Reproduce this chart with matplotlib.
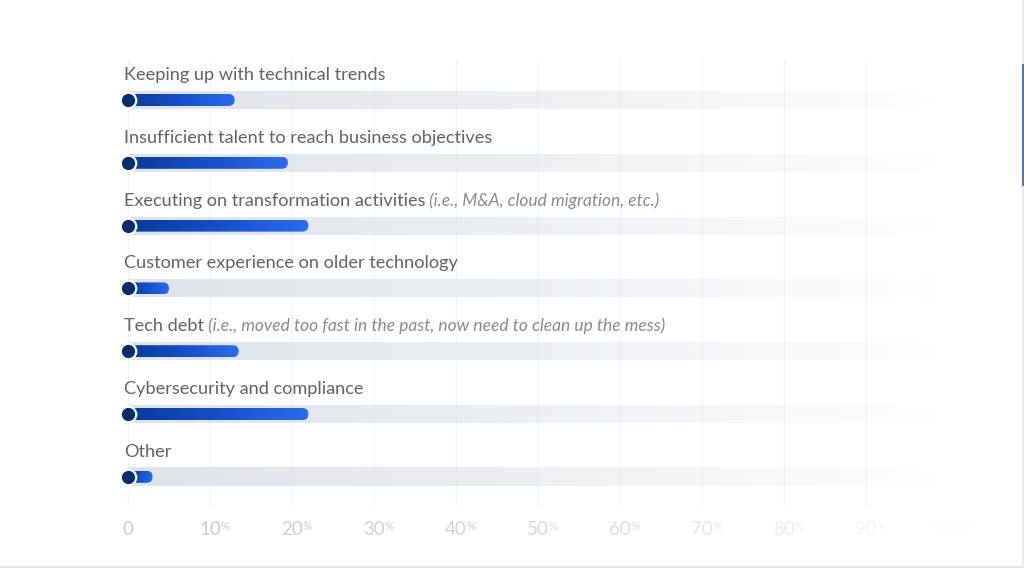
import numpy as np
import matplotlib.pyplot as plt
from matplotlib.colors import LinearSegmentedColormap, to_rgb
from matplotlib.patches import FancyBboxPatch

labels = [
    "Keeping up with technical trends",
    "Insufficient talent to reach business objectives",
    "Executing on transformation activities",
    "Customer experience on older technology",
    "Tech debt",
    "Cybersecurity and compliance",
    "Other",
]
notes = [
    "",
    "",
    "(i.e., M&A, cloud migration, etc.)",
    "",
    "(i.e., moved too fast in the past, now need to clean up the mess)",
    "",
    "",
]
values = [13, 19.5, 22, 5, 13.5, 22, 3]
ticks = [0, 10, 20, 30, 40, 50, 60, 70, 80, 90, 100]

# layout in pixels of the 1024x568 canvas
W, H = 1024, 568
X0_PX, PX_PER_PCT = 128, 8.2
ROW0_PX, ROW_STEP_PX = 100, 62.8
TRACK_H, BAR_H, DOT_D = 18, 12, 15.5
TRACK_END = 98.5

fig = plt.figure(figsize=(W / 100, H / 100), dpi=100)
fig.patch.set_facecolor("white")
ax = fig.add_axes([0, 0, 1, 1])
ax.set_xlim(-X0_PX / PX_PER_PCT, (W - X0_PX) / PX_PER_PCT)
ax.set_ylim((H - ROW0_PX) / ROW_STEP_PX, -ROW0_PX / ROW_STEP_PX)
ax.axis("off")

py = 1 / ROW_STEP_PX          # data units per pixel (vertical)
aspect = PX_PER_PCT / ROW_STEP_PX

# grid lines
for t in ticks[:-1]:
    ax.plot([t, t], [-40 * py, 6.45], color="#f1f3f6", lw=1.0, zorder=0)

bar_cmap = LinearSegmentedColormap.from_list("bar", ["#073a98", "#1550cc", "#2b6cf0"])
track_rgb = np.array(to_rgb("#dfe4eb"))
fade = np.linspace(1.0, 0.04, 256)
track_img = np.ones((1, 256, 4))
track_img[..., :3] = track_rgb
track_img[0, :, 3] = fade ** 0.9

for i, (lab, note, v) in enumerate(zip(labels, notes, values)):
    # background track
    ax.imshow(track_img, extent=(0, TRACK_END, i + TRACK_H / 2 * py, i - TRACK_H / 2 * py),
              aspect="auto", interpolation="bilinear", zorder=1)

    # gradient bar with rounded end
    clip = FancyBboxPatch((0, i - BAR_H / 2 * py), v, BAR_H * py,
                          boxstyle=f"round,pad=0,rounding_size={BAR_H / 2 / PX_PER_PCT}",
                          mutation_aspect=aspect, transform=ax.transData,
                          facecolor="none", edgecolor="none")
    ax.add_patch(clip)
    grad = np.linspace(0, 1, 256).reshape(1, -1)
    im = ax.imshow(grad, cmap=bar_cmap, extent=(0, v, i + BAR_H / 2 * py, i - BAR_H / 2 * py),
                   aspect="auto", interpolation="bilinear", zorder=2)
    im.set_clip_path(clip)

    # start dot
    ax.scatter([0], [i], s=(DOT_D * 0.72) ** 2, color="#082c6c", edgecolor="white",
               linewidth=1.6, zorder=3)

    # label
    t1 = ax.text(-0.5, i - 20 * py, lab, fontsize=13.1, family="Lato", color="#626262",
                 ha="left", va="baseline", zorder=4)
    if note:
        ax.annotate(" " + note, xy=(1, 0), xycoords=t1, fontsize=12.5, family="Lato",
                    style="italic", color="#8a8a8a", ha="left", va="bottom", zorder=4)

# tick labels, fading to the right
tick_y = 6.45 + 30 * py
tick_shade = [0.81, 0.81, 0.82, 0.83, 0.84, 0.86, 0.89, 0.92, 0.945, 0.97, 0.995]
for t, c in zip(ticks, tick_shade):
    color = (c * 0.975, c * 0.985, c)
    num = ax.text(t, tick_y, str(t), fontsize=13.5, family="Lato", color=color,
                  ha="center", va="baseline")
    if t > 0:
        ax.annotate("%", xy=(1, 1), xycoords=num, fontsize=8.5, family="Lato",
                    color=color, ha="left", va="top", xytext=(0, 0),
                    textcoords="offset points")

# frame edges
fig.add_artist(plt.Line2D([0, 1], [1.5 / H, 1.5 / H], color="#e4e6e9", lw=1.5))
fig.add_artist(plt.Line2D([1 - 1.5 / W, 1 - 1.5 / W], [0, 1], color="#e8eaee", lw=1.5))
fig.add_artist(plt.Line2D([1 - 1.5 / W, 1 - 1.5 / W], [1 - 185 / H, 1 - 65 / H],
                          color="#5b74a8", lw=1.5))

fig.savefig("out.png", dpi=100)
